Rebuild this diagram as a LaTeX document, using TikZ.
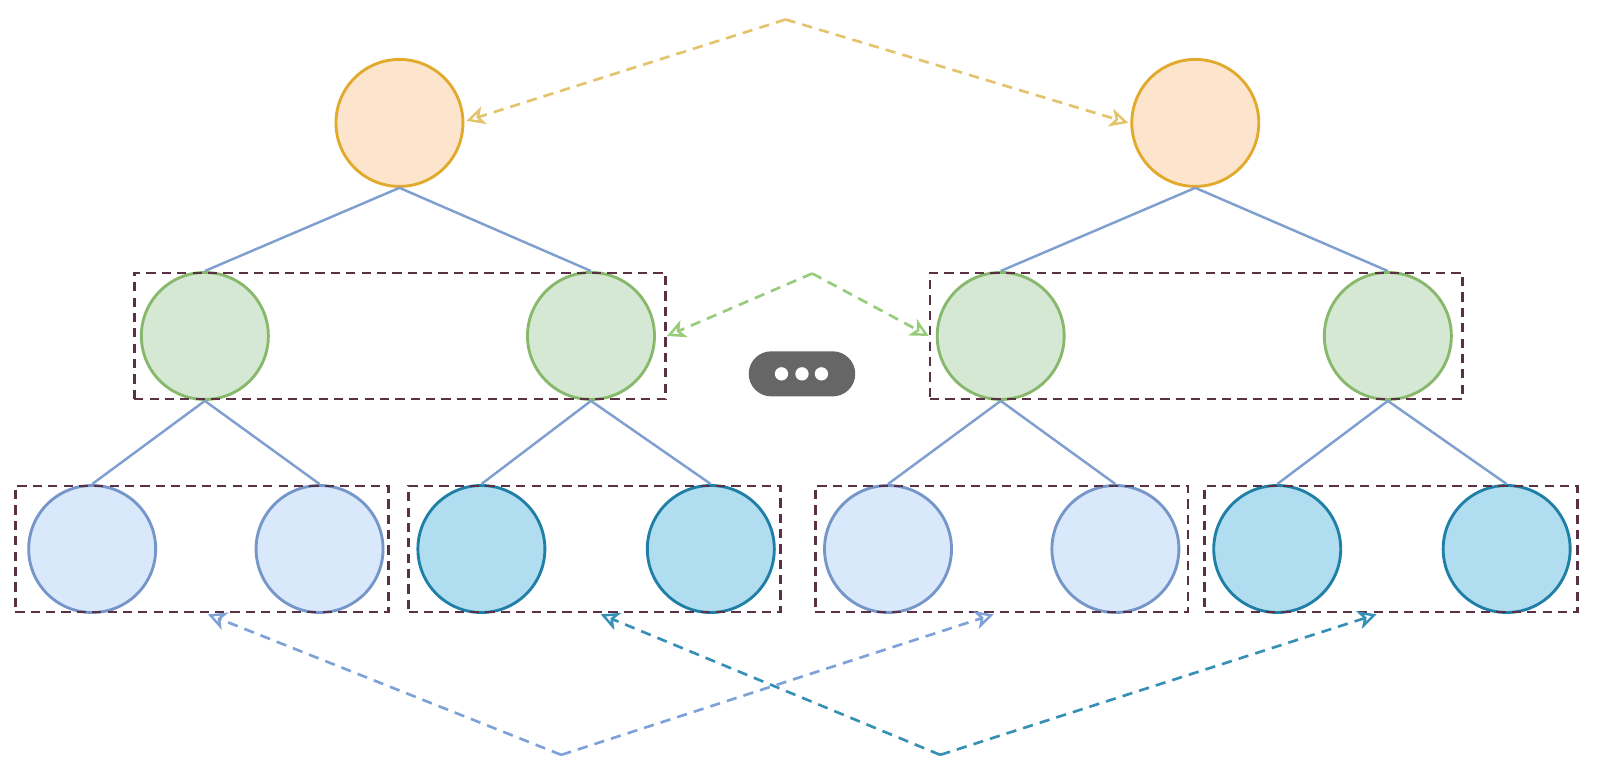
\documentclass[tikz,border=0pt]{standalone}
\usetikzlibrary{arrows.meta,calc}
\definecolor{orfill}{HTML}{FCE5CC}
\definecolor{ordraw}{HTML}{E2AA2C}
\definecolor{grfill}{HTML}{D5E8D4}
\definecolor{grdraw}{HTML}{88B86C}
\definecolor{lbfill}{HTML}{DAE8FC}
\definecolor{lbdraw}{HTML}{7596C8}
\definecolor{tlfill}{HTML}{B1DDF0}
\definecolor{tldraw}{HTML}{1F7FA6}
\definecolor{boxdraw}{HTML}{5A3044}
\definecolor{treeline}{HTML}{7F9FCF}
\definecolor{ylink}{HTML}{E3C46C}
\definecolor{glink}{HTML}{97CC7A}
\definecolor{blink}{HTML}{7EA2D8}
\definecolor{tlink}{HTML}{3690B5}
\definecolor{pill}{HTML}{666666}
\begin{document}
\begin{tikzpicture}[x=0.5pt,y=-0.5pt,
  nodecirc/.style={circle,minimum size=62pt,inner sep=0pt,line width=1.4pt},
  orc/.style={nodecirc,fill=orfill,draw=ordraw},
  grc/.style={nodecirc,fill=grfill,draw=grdraw},
  lbc/.style={nodecirc,fill=lbfill,draw=lbdraw},
  tlc/.style={nodecirc,fill=tlfill,draw=tldraw},
  groupbox/.style={rectangle,draw=boxdraw,line width=1.3pt,dash pattern=on 4.5pt off 3pt,inner sep=0pt,minimum height=61.5pt},
  tree/.style={draw=treeline,line width=1.2pt},
  link/.style={line width=1.3pt,dash pattern=on 5pt off 3.5pt,-{Stealth[open,length=9pt,width=9pt,inset=2.5pt,line width=1.2pt]}}
]
\useasboundingbox (0,0) rectangle (1568,744);

% nodes
\node[orc] (o1) at (390,120) {};
\node[orc] (o2) at (1167,120) {};
\node[grc] (g1) at (200,328) {};
\node[grc] (g2) at (577,328) {};
\node[grc] (g3) at (977,328) {};
\node[grc] (g4) at (1355,328) {};
\node[lbc] (b1) at (90,536) {};
\node[lbc] (b2) at (312,536) {};
\node[tlc] (b3) at (470,536) {};
\node[tlc] (b4) at (694,536) {};
\node[lbc] (b5) at (867,536) {};
\node[lbc] (b6) at (1089,536) {};
\node[tlc] (b7) at (1247,536) {};
\node[tlc] (b8) at (1471,536) {};

\draw[tree] (o1.south) -- (g1.north);
\draw[tree] (o1.south) -- (g2.north);
\draw[tree] (o2.south) -- (g3.north);
\draw[tree] (o2.south) -- (g4.north);
\draw[tree] (g1.south) -- (b1.north);
\draw[tree] (g1.south) -- (b2.north);
\draw[tree] (g2.south) -- (b3.north);
\draw[tree] (g2.south) -- (b4.north);
\draw[tree] (g3.south) -- (b5.north);
\draw[tree] (g3.south) -- (b6.north);
\draw[tree] (g4.south) -- (b7.north);
\draw[tree] (g4.south) -- (b8.north);

% group boxes
\node[groupbox,minimum width=259.5pt] (gb1) at (390.5,328) {};
\node[groupbox,minimum width=260pt] (gb2) at (1168,328) {};
\node[groupbox,minimum width=182pt] (bb1) at (197,536) {};
\node[groupbox,minimum width=181.5pt] (bb2) at (580.5,536) {};
\node[groupbox,minimum width=182pt] (bb3) at (978,536) {};
\node[groupbox,minimum width=182pt] (bb4) at (1358,536) {};

% link coordinates
\coordinate (ytop) at (767,19);
\coordinate (gtop) at (793,267);
\coordinate (bbot) at (548,737);
\coordinate (tbot) at (918,737);

\draw[link,draw=ylink] (ytop) -- ($(o1.east)+(2,-2)$);
\draw[link,draw=ylink] (ytop) -- ($(o2.west)+(-2,0)$);
\draw[link,draw=glink] (gtop) -- (gb1.east);
\draw[link,draw=glink] (gtop) -- (gb2.west);
\draw[link,draw=blink] (bbot) -- ($(bb1.south)+(6,1)$);
\draw[link,draw=blink] (bbot) -- ($(bb3.south)+(-8,1)$);
\draw[link,draw=tlink] (tbot) -- ($(bb2.south)+(6,1)$);
\draw[link,draw=tlink] (tbot) -- ($(bb4.south)+(-14,1)$);

% more indicator
\node[rectangle,rounded corners=11pt,fill=pill,minimum width=52pt,minimum height=22pt,inner sep=0pt] (more) at (783,365) {};
\foreach \dx [count=\i] in {-20,0,19}
  \node[circle,fill=white,minimum size=6.5pt,inner sep=0pt] (dot\i) at ($(more.center)+(\dx,0)$) {};
\end{tikzpicture}
\end{document}
